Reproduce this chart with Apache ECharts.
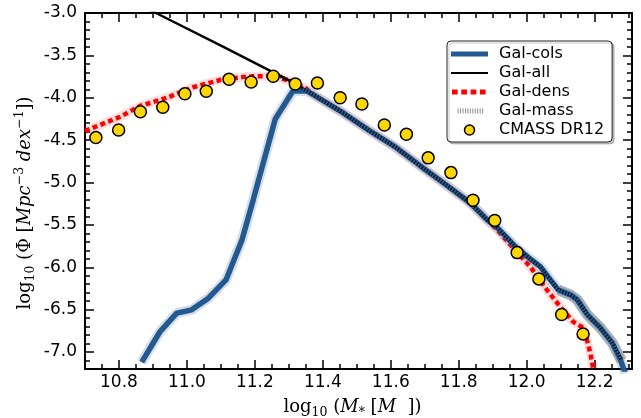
<!DOCTYPE html>
<html>
<head>
<meta charset="utf-8">
<script src="https://cdn.jsdelivr.net/npm/echarts@6/dist/echarts.min.js"></script>
<style>
  html, body { margin: 0; padding: 0; background: #fff; }
  #chart { width: 641px; height: 418px; }
</style>
</head>
<body>
<div id="chart"></div>
<script>
// --- data ---
var cmassX = [10.732, 10.799, 10.863, 10.929, 10.994, 11.057, 11.124, 11.189, 11.254, 11.319, 11.384, 11.451,
  11.515, 11.581, 11.646, 11.710, 11.777, 11.842, 11.906, 11.972, 12.036, 12.103, 12.166];
var cmassY = [-4.470, -4.380, -4.164, -4.112, -3.952, -3.923, -3.782, -3.814, -3.746, -3.837, -3.825, -3.999,
  -4.073, -4.321, -4.430, -4.709, -4.883, -5.209, -5.447, -5.827, -6.137, -6.558, -6.786];

var colsX = [10.867, 10.921, 10.970, 11.014, 11.063, 11.115, 11.162, 11.195, 11.260, 11.312, 11.353, 11.383,
  11.460, 11.534, 11.613, 11.687, 11.763, 11.834, 11.884, 11.914, 11.967, 12.002, 12.040, 12.070, 12.093,
  12.129, 12.149, 12.179, 12.217, 12.252, 12.276, 12.290];
var colsY = [-7.119, -6.758, -6.541, -6.502, -6.364, -6.149, -5.677, -5.205, -4.250, -3.920, -3.920, -3.991,
  -4.179, -4.380, -4.580, -4.804, -5.028, -5.241, -5.441, -5.535, -5.756, -5.874, -5.992, -6.149, -6.267,
  -6.325, -6.384, -6.561, -6.715, -6.892, -7.093, -7.250];

var allX = [10.830, 10.909, 11.106, 11.313, 11.383, 11.460, 11.534, 11.613, 11.687, 11.763, 11.834, 11.884,
  11.914, 11.967, 12.002, 12.040, 12.070, 12.093, 12.129, 12.149, 12.179, 12.217, 12.252, 12.278];
var allY = [-2.850, -3.000, -3.397, -3.822, -3.991, -4.179, -4.380, -4.580, -4.804, -5.028, -5.241, -5.441,
  -5.535, -5.756, -5.874, -5.992, -6.149, -6.267, -6.325, -6.384, -6.561, -6.715, -6.892, -7.070];

var densX = [10.700, 10.744, 10.803, 10.862, 10.942, 11.018, 11.098, 11.177, 11.254, 11.313, 11.348, 11.383,
  11.460, 11.534, 11.613, 11.687, 11.763, 11.834, 11.884, 11.914, 11.973, 12.011, 12.055, 12.099, 12.137,
  12.167, 12.177, 12.187, 12.196];
var densY = [-4.392, -4.321, -4.226, -4.097, -3.999, -3.876, -3.790, -3.749, -3.743, -3.814, -3.884, -3.991,
  -4.179, -4.380, -4.580, -4.804, -5.028, -5.241, -5.441, -5.559, -5.830, -5.995, -6.243, -6.467, -6.644,
  -6.715, -6.853, -7.006, -7.198];

var massX = [11.268, 11.313, 11.383, 11.460, 11.534, 11.613, 11.687, 11.763, 11.834, 11.884, 11.914, 11.967,
  12.002, 12.040, 12.070, 12.093, 12.129, 12.149, 12.179, 12.217, 12.252, 12.280];
var massY = [-3.731, -3.822, -3.991, -4.179, -4.380, -4.580, -4.804, -5.028, -5.241, -5.441, -5.535, -5.756,
  -5.874, -5.992, -6.149, -6.267, -6.325, -6.384, -6.561, -6.715, -6.892, -7.100];

var xTicks = [10.8, 11.0, 11.2, 11.4, 11.6, 11.8, 12.0, 12.2];
var yTicks = [-7.0, -6.5, -6.0, -5.5, -5.0, -4.5, -4.0, -3.5, -3.0];

function zip(xs, ys) {
  var out = [];
  for (var i = 0; i < xs.length; i++) out.push([xs[i], ys[i]]);
  return out;
}
function steps(a, b, d) {
  var out = [];
  for (var v = a; v <= b + 1e-9; v += d) out.push(Math.round(v * 1000) / 1000);
  return out;
}
var xMinor = steps(10.7, 12.3, 0.05);
var yMinor = steps(-7.2, -3.0, 0.1);

var blue = '#23598f';
var font = 'DejaVu Sans';
var serif = 'DejaVu Serif';

// legend swatches (box 37 x 10)
var box = 'M0,0M37,10';
var iconCols = 'path://' + box + 'M0,2.4h37v5.2h-37z';
var iconAll = 'path://' + box + 'M0,3.9h37v2.2h-37z';
var iconDens = 'path://' + box + 'M1,2.5h5.7v5h-5.7zM10.3,2.5h5.7v5h-5.7zM19.6,2.5h5.7v5h-5.7zM28.9,2.5h5.7v5h-5.7z';
var iconMass = 'path://' + box;
for (var k = 0; k < 11; k++) iconMass += 'M' + (6.6 + k * 2.45).toFixed(2) + ',2.5h1v5h-1z';

var nameRich = {
  r: { fontFamily: serif, fontSize: 18, lineHeight: 24, color: '#000' },
  i: { fontFamily: serif, fontStyle: 'italic', fontSize: 18, lineHeight: 24, color: '#000' },
  s: { fontFamily: serif, fontSize: 12.5, lineHeight: 12, verticalAlign: 'bottom', color: '#000' },
  p: { fontFamily: serif, fontSize: 12.5, lineHeight: 12, verticalAlign: 'top', color: '#000' }
};

function xAx(pos, ticks, len, labels) {
  return {
    type: 'value', position: pos, min: 10.7, max: 12.31,
    axisLine: { show: !!labels, onZero: false, lineStyle: { color: '#000', width: 2 } },
    axisTick: { show: true, inside: true, length: len, customValues: ticks, lineStyle: { color: '#000', width: 1.5 } },
    axisLabel: labels ? {
      show: true, customValues: ticks, margin: 5, color: '#000', fontFamily: font, fontSize: 17,
      formatter: function(v) { return v.toFixed(1); }
    } : { show: false },
    splitLine: { show: false }
  };
}
function yAx(pos, ticks, len, labels) {
  return {
    type: 'value', position: pos, min: -7.2, max: -3.0,
    axisLine: { show: !!labels, onZero: false, lineStyle: { color: '#000', width: 2 } },
    axisTick: { show: true, inside: true, length: len, customValues: ticks, lineStyle: { color: '#000', width: 1.5 } },
    axisLabel: labels ? {
      show: true, customValues: ticks, margin: 8, color: '#000', fontFamily: font, fontSize: 17,
      formatter: function(v) { return v.toFixed(1); }
    } : { show: false },
    splitLine: { show: false }
  };
}

var xMain = xAx('bottom', xTicks, 9, true);
xMain.name = '{r|log}{s|10}{r| (}{i|M}{s|*}{r| [}{i|M}{r|  ])}';
xMain.nameLocation = 'middle';
xMain.nameGap = 26;
xMain.nameTextStyle = { rich: nameRich, padding: [0, 12, 0, 0] };

var yMain = yAx('left', yTicks, 9, true);
yMain.name = '{r|log}{s|10}{r| (Φ [}{i|Mpc}{p|−3}{i| dex}{p|−1}{r|])}';
yMain.nameLocation = 'middle';
yMain.nameGap = 48;
yMain.nameMoveOverlap = false;
yMain.nameRotate = 90;
yMain.nameTextStyle = { rich: nameRich, padding: [0, 24, 0, 0] };

var xTop = xAx('top', xTicks, 9, false);
xTop.axisLine.show = true;
var yRight = yAx('right', yTicks, 9, false);
yRight.axisLine.show = true;

var chart = echarts.init(document.getElementById('chart'), null, { renderer: 'canvas' });
chart.setOption({
  animation: false,
  backgroundColor: '#fff',
  grid: { left: 85, right: 9, top: 13, bottom: 49, containLabel: false, outerBoundsMode: 'none' },
  xAxis: [xMain, xAx('bottom', xMinor, 5, false), xTop, xAx('top', xMinor, 5, false)],
  yAxis: [yMain, yAx('left', yMinor, 5, false), yRight, yAx('right', yMinor, 5, false)],
  legend: {
    orient: 'vertical', left: 447, top: 41,
    padding: [5, 8, 4, 4], itemWidth: 37, itemHeight: 10, itemGap: 3,
    selectedMode: false,
    backgroundColor: '#fff', borderColor: '#222', borderWidth: 1, borderRadius: 4,
    shadowColor: 'rgba(0,0,0,0.22)', shadowOffsetX: 2, shadowOffsetY: 2, shadowBlur: 0,
    textStyle: { fontFamily: font, fontSize: 16, lineHeight: 16, color: '#000', padding: [0, 0, 0, 6] },
    data: [
      { name: 'Gal-cols', icon: iconCols, itemStyle: { color: blue, borderWidth: 0 } },
      { name: 'Gal-all', icon: iconAll, itemStyle: { color: '#000', borderWidth: 0 } },
      { name: 'Gal-dens', icon: iconDens, itemStyle: { color: '#ff0000', borderWidth: 0 } },
      { name: 'Gal-mass', icon: iconMass, itemStyle: { color: 'rgba(0,0,0,0.45)', borderWidth: 0 } },
      { name: 'CMASS DR12', icon: 'circle', itemStyle: { color: '#ffd700', borderColor: '#000', borderWidth: 1.5 } }
    ]
  },
  series: [
    {
      name: 'dens-band', type: 'line', data: zip(densX, densY), symbol: 'none', z: 1, silent: true,
      lineStyle: { color: 'rgba(255,0,0,0.13)', width: 9 }
    },
    {
      name: 'Gal-dens', type: 'line', data: zip(densX, densY), symbol: 'none', z: 2,
      lineStyle: { color: '#ff0000', width: 4.5, type: [5, 3.3], cap: 'butt' }
    },
    {
      name: 'Gal-all', type: 'line', data: zip(allX, allY), symbol: 'none', z: 3,
      lineStyle: { color: '#000', width: 2.4 }
    },
    {
      name: 'cols-band', type: 'line', data: zip(colsX, colsY), symbol: 'none', z: 4, silent: true,
      lineStyle: { color: 'rgba(35,89,143,0.2)', width: 10 }
    },
    {
      name: 'mass-band', type: 'line', data: zip(massX.slice(-7), massY.slice(-7)), symbol: 'none', z: 4, silent: true,
      lineStyle: { color: 'rgba(0,0,0,0.22)', width: 11 }
    },
    {
      name: 'Gal-cols', type: 'line', data: zip(colsX, colsY), symbol: 'none', z: 5,
      lineStyle: { color: blue, width: 5.5 }
    },
    {
      name: 'Gal-mass', type: 'line', data: zip(massX, massY), symbol: 'none', z: 6,
      lineStyle: { color: 'rgba(0,0,0,0.75)', width: 4, type: [1.3, 1.7], cap: 'butt' }
    },
    {
      name: 'CMASS DR12', type: 'scatter', data: zip(cmassX, cmassY), symbol: 'circle', symbolSize: 12, z: 7,
      itemStyle: { color: '#ffd700', borderColor: '#000', borderWidth: 1.5, opacity: 1 }
    }
  ]
});
window.addEventListener('resize', function() { chart.resize(); });
</script>
</body>
</html>
